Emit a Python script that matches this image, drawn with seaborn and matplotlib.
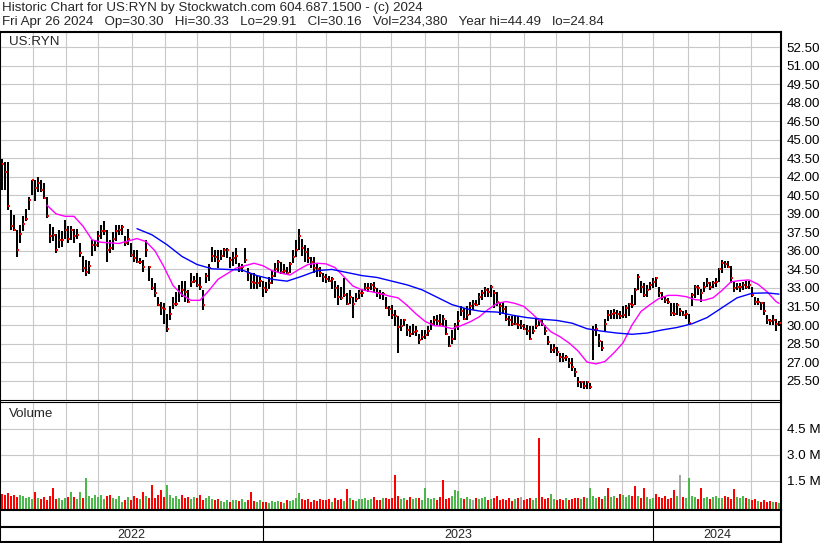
import numpy as np
import pandas as pd
import matplotlib
matplotlib.use("Agg")
import matplotlib.pyplot as plt
import seaborn as sns

# --- chart values (one bar per two trading days) ---
first_day = "2022-05-03"
last_day = "2024-04-26"

bar_high = [
    43.4, 43.2, 43.2, 39.3, 38.9, 37.7, 38.1, 38.8, 39.4, 40.4,
    41.7, 41.7, 42.0, 41.7, 41.5, 40.4, 38.2, 37.9, 37.4, 37.7,
    37.6, 38.5, 38.0, 38.0, 37.8, 37.8, 36.6, 35.6, 35.3, 35.2,
    36.9, 36.9, 37.6, 38.1, 38.4, 37.7, 36.9, 37.5, 38.1, 38.1,
    38.1, 37.2, 37.8, 36.6, 36.1, 36.1, 35.4, 35.3, 36.9, 34.8,
    33.8, 33.4, 32.3, 31.9, 31.8, 30.9, 31.5, 32.3, 32.7, 33.2,
    33.6, 33.6, 32.8, 34.2, 34.0, 34.2, 33.9, 32.8, 34.2, 34.9,
    36.3, 36.1, 36.1, 36.1, 36.2, 36.2, 35.5, 35.9, 36.2, 35.0,
    34.9, 36.2, 34.6, 34.1, 34.2, 34.0, 33.9, 33.6, 33.5, 33.9,
    34.4, 35.0, 35.3, 35.1, 34.9, 34.7, 35.1, 36.1, 36.9, 37.8,
    37.0, 36.5, 36.2, 35.5, 35.5, 35.0, 34.7, 34.2, 34.1, 34.0,
    33.9, 33.6, 33.2, 33.1, 33.8, 32.6, 32.8, 32.3, 32.6, 32.8,
    32.9, 33.4, 33.4, 33.4, 33.5, 33.0, 32.8, 32.7, 32.3, 31.5,
    31.6, 31.2, 30.7, 30.5, 30.5, 30.1, 29.9, 30.1, 29.9, 29.3,
    29.6, 29.6, 29.9, 30.4, 30.7, 30.8, 30.9, 30.8, 30.4, 29.1,
    29.6, 30.2, 31.1, 31.5, 31.4, 31.5, 31.9, 32.0, 32.0, 32.6,
    32.8, 33.1, 33.0, 33.2, 32.8, 32.7, 31.9, 31.9, 31.5, 30.7,
    30.7, 30.8, 30.7, 30.4, 30.1, 30.0, 29.9, 29.9, 30.5, 30.4,
    30.4, 30.0, 29.1, 28.5, 28.5, 28.2, 27.7, 27.7, 27.6, 27.3,
    27.3, 26.5, 25.8, 25.5, 25.5, 25.5, 25.3, 29.9, 30.1, 29.3,
    28.7, 30.5, 31.2, 31.2, 31.3, 31.2, 31.1, 31.5, 31.6, 31.8,
    32.4, 33.0, 34.1, 33.6, 33.4, 33.2, 33.5, 33.8, 33.9, 33.1,
    32.7, 32.3, 32.2, 31.8, 31.8, 31.8, 31.4, 31.1, 31.2, 30.9,
    32.6, 33.2, 33.2, 32.9, 33.5, 33.8, 33.5, 33.6, 33.8, 34.6,
    35.3, 35.2, 35.2, 34.8, 33.5, 33.4, 33.4, 33.5, 33.6, 33.6,
    33.1, 32.3, 32.2, 31.9, 31.9, 30.8, 30.5, 30.8, 30.5, 30.33,
]
bar_low = [
    40.9, 40.9, 39.3, 37.7, 37.6, 35.5, 36.6, 37.6, 38.4, 39.3,
    40.5, 40.0, 40.8, 40.8, 40.2, 38.7, 36.6, 36.8, 35.8, 36.2,
    36.3, 37.0, 36.6, 36.9, 36.6, 37.0, 35.5, 34.3, 34.0, 34.1,
    35.6, 36.0, 36.3, 37.0, 37.3, 35.1, 35.8, 36.1, 36.8, 37.3,
    37.3, 36.4, 36.5, 35.5, 35.1, 35.0, 34.9, 34.3, 35.5, 33.6,
    32.8, 32.3, 31.5, 30.8, 30.1, 29.4, 30.4, 31.3, 31.5, 31.9,
    32.3, 31.9, 31.8, 33.1, 33.4, 33.1, 32.8, 31.2, 33.4, 33.6,
    35.1, 35.1, 34.6, 35.3, 35.5, 35.4, 34.6, 34.8, 34.9, 34.3,
    34.3, 35.0, 33.6, 32.9, 32.9, 32.9, 33.1, 32.3, 32.6, 32.9,
    33.3, 33.9, 34.3, 34.1, 34.1, 34.1, 34.2, 35.0, 35.5, 36.1,
    35.6, 35.1, 35.0, 34.6, 34.2, 33.9, 33.9, 33.5, 33.4, 33.5,
    32.9, 32.2, 31.6, 32.0, 32.3, 31.6, 31.7, 30.6, 31.9, 32.1,
    32.3, 32.8, 32.7, 32.8, 32.7, 32.3, 32.1, 32.0, 31.3, 30.7,
    30.5, 29.9, 27.7, 29.5, 29.9, 29.1, 29.0, 29.2, 29.1, 28.5,
    28.8, 28.9, 29.1, 29.6, 30.0, 30.0, 29.9, 29.9, 29.2, 28.2,
    28.5, 28.8, 29.6, 30.7, 30.4, 30.4, 30.8, 31.2, 31.5, 31.6,
    32.0, 32.3, 32.3, 32.3, 31.4, 31.5, 30.8, 30.9, 30.3, 29.9,
    29.9, 30.0, 29.7, 29.7, 29.6, 29.2, 28.8, 29.3, 29.7, 29.9,
    29.9, 29.2, 28.4, 27.7, 27.7, 27.5, 27.0, 27.0, 27.1, 26.5,
    26.3, 25.8, 25.0, 24.9, 24.8, 24.8, 24.84, 27.2, 29.1, 28.2,
    27.9, 29.5, 30.3, 30.5, 30.5, 30.5, 30.5, 30.6, 30.6, 30.7,
    31.4, 31.6, 32.8, 32.6, 32.3, 32.3, 32.8, 33.0, 33.1, 32.3,
    32.0, 31.8, 31.7, 30.7, 30.7, 30.8, 30.7, 30.7, 30.5, 30.0,
    31.5, 32.2, 32.4, 31.9, 32.7, 33.1, 32.8, 33.0, 33.1, 33.5,
    34.2, 34.6, 34.6, 33.4, 32.7, 32.8, 32.7, 32.8, 32.9, 32.9,
    32.3, 31.6, 31.6, 31.2, 30.8, 30.1, 30.0, 30.0, 29.5, 29.91,
]
bar_close = [
    43.0, 42.4, 39.6, 38.0, 37.7, 36.1, 37.4, 38.2, 38.6, 40.1,
    41.7, 41.1, 41.5, 40.9, 40.3, 38.8, 37.2, 37.3, 36.1, 36.9,
    36.9, 37.7, 37.0, 37.7, 37.2, 37.3, 35.8, 34.6, 34.3, 34.8,
    36.5, 36.5, 37.2, 37.6, 37.6, 36.1, 36.2, 37.0, 37.6, 37.7,
    37.9, 36.6, 37.0, 35.7, 35.4, 35.1, 35.1, 34.7, 36.1, 34.7,
    33.0, 32.6, 31.6, 31.4, 31.3, 29.7, 30.9, 31.7, 31.7, 32.6,
    32.8, 32.7, 31.9, 33.5, 33.6, 33.2, 33.1, 31.6, 34.0, 34.6,
    35.6, 35.5, 35.2, 35.6, 36.1, 36.1, 35.3, 35.4, 35.6, 34.6,
    34.7, 35.3, 34.2, 33.5, 33.4, 33.4, 33.6, 33.0, 32.8, 33.4,
    34.0, 34.5, 35.1, 34.3, 34.4, 34.2, 34.9, 35.5, 36.1, 37.2,
    36.2, 35.9, 35.4, 35.1, 34.6, 34.5, 34.2, 33.9, 33.7, 33.6,
    33.7, 33.0, 32.3, 32.2, 32.4, 31.7, 32.3, 31.7, 32.1, 32.6,
    32.6, 33.0, 33.0, 33.2, 33.0, 32.6, 32.5, 32.5, 31.4, 31.3,
    30.8, 30.7, 29.8, 29.9, 30.4, 29.6, 29.3, 29.4, 29.5, 28.8,
    29.0, 29.2, 29.5, 30.1, 30.4, 30.3, 30.1, 30.5, 29.3, 28.3,
    28.9, 29.9, 30.3, 31.1, 30.5, 30.8, 31.5, 31.7, 31.6, 32.3,
    32.6, 32.8, 32.7, 33.1, 32.6, 31.9, 31.5, 31.3, 30.5, 30.4,
    30.1, 30.1, 30.0, 29.9, 29.7, 29.5, 28.9, 29.5, 29.9, 30.3,
    30.1, 29.5, 28.6, 28.0, 28.1, 27.8, 27.4, 27.3, 27.4, 26.9,
    26.6, 26.2, 25.4, 25.4, 25.1, 25.4, 25.0, 29.6, 29.7, 28.7,
    28.1, 30.1, 30.8, 30.9, 31.0, 30.9, 30.7, 30.8, 31.4, 31.7,
    31.6, 32.8, 33.9, 33.1, 32.4, 32.8, 33.2, 33.5, 33.8, 32.6,
    32.3, 32.0, 31.9, 31.0, 30.9, 31.6, 31.1, 30.8, 30.9, 30.2,
    32.4, 33.1, 33.0, 32.6, 33.1, 33.4, 33.1, 33.4, 33.5, 34.5,
    35.0, 34.9, 34.7, 33.8, 33.0, 33.1, 33.1, 33.2, 33.1, 33.2,
    32.4, 31.9, 31.9, 31.8, 31.1, 30.4, 30.3, 30.4, 30.1, 30.16,
]

# volume in millions of shares
volume_m = [
    0.72, 0.65, 0.78, 0.6, 0.7, 0.55, 0.68, 0.62, 0.5, 0.58, 0.45, 0.85,
    0.5, 0.42, 0.55, 0.38, 0.6, 1.06, 0.45, 0.52, 0.4, 0.48, 0.58, 0.85,
    0.55, 0.45, 0.85, 0.5, 1.64, 0.6, 0.48, 0.65, 0.55, 0.7, 0.42, 0.62,
    0.7, 0.5, 0.45, 0.6, 0.3, 0.4, 0.55, 0.38, 0.62, 0.5, 0.45, 0.85,
    0.6, 0.52, 1.25, 0.48, 0.7, 0.95, 0.55, 1.25, 0.65, 0.5, 0.62, 0.45,
    0.7, 0.5, 0.58, 0.42, 0.55, 0.48, 0.7, 0.4, 0.5, 0.62, 0.45, 0.38,
    0.42, 0.35, 0.3, 0.38, 0.28, 0.36, 0.4, 0.32, 0.45, 0.3, 0.38, 0.85,
    0.35, 0.28, 0.4, 0.25, 0.3, 0.22, 0.32, 0.27, 0.35, 0.3, 0.24, 0.38,
    0.33, 0.4, 0.5, 0.8, 0.45, 0.36, 0.42, 0.3, 0.38, 0.33, 0.45, 0.4,
    0.36, 0.42, 0.3, 0.48, 0.38, 0.44, 0.35, 1.0, 0.5, 0.4, 0.33, 0.46,
    0.42, 0.5, 0.38, 0.45, 0.55, 0.4, 0.36, 0.48, 0.52, 0.44, 0.5, 1.83,
    0.6, 0.45, 0.5, 0.38, 0.55, 0.42, 0.48, 0.5, 0.4, 1.06, 0.52, 0.45,
    0.48, 0.4, 0.55, 1.54, 0.45, 0.5, 0.62, 0.95, 0.9, 0.5, 0.42, 0.55,
    0.45, 0.38, 0.5, 0.42, 0.48, 0.55, 0.4, 0.45, 0.52, 0.6, 0.38, 0.44,
    0.4, 0.48, 0.35, 0.42, 0.5, 0.55, 0.38, 0.45, 0.5, 0.4, 0.48, 3.94,
    0.55, 0.45, 0.5, 0.75, 0.42, 0.38, 0.45, 0.4, 0.5, 0.36, 0.44, 0.48,
    0.5, 0.42, 0.55, 0.48, 1.06, 0.6, 0.5, 0.58, 0.45, 0.62, 1.06, 0.55,
    0.6, 0.5, 0.72, 0.65, 0.55, 0.7, 0.62, 1.2, 0.6, 0.5, 1.1, 0.55,
    0.45, 0.5, 0.75, 0.55, 0.48, 0.6, 0.42, 0.5, 0.95, 0.6, 1.83, 0.55,
    0.5, 1.68, 0.62, 0.55, 0.45, 1.1, 0.5, 0.58, 0.42, 0.55, 0.6, 0.48,
    0.52, 0.6, 0.55, 0.45, 1.0, 0.55, 0.48, 0.6, 0.5, 0.42, 0.38, 0.45,
    0.35, 0.3, 0.4, 0.28, 0.33, 0.3, 0.25, 0.23,
]
# bars whose up/down colour differs from the two-day close comparison
volume_colour_fix = {17: "r", 26: "g", 28: "g", 36: "r", 55: "g", 60: "r", 147: "r",
                     179: "r", 183: "g", 196: "g", 202: "r", 211: "r", 218: "r", 229: "g"}
flat_bars = [157, 173, 226]

# short moving average, read every third bar (plus the last one)
ma_fast = [
    39.7, 39.0, 38.8, 38.8, 38.0, 36.9, 36.7, 36.65, 36.6, 36.8,
    37.0, 36.75, 36.0, 34.7, 33.2, 32.45, 32.0, 32.0, 32.8, 33.7,
    34.15, 34.6, 34.8, 35.0, 34.8, 34.4, 34.2, 34.05, 34.5, 34.9,
    35.0, 34.95, 34.65, 33.9, 33.15, 32.85, 32.7, 32.55, 32.35, 32.2,
    31.6, 30.9, 30.3, 29.95, 29.9, 29.7, 29.95, 30.25, 30.65, 31.25,
    31.75, 31.9, 31.75, 31.5, 30.85, 30.15, 29.45, 29.05, 28.55, 27.9,
    27.0, 26.85, 27.05, 27.75, 28.55, 30.0, 31.1, 31.65, 32.15, 32.4,
    32.4, 32.3, 32.05, 32.0, 32.2, 32.8, 33.5, 33.6, 33.65, 33.3,
    32.7, 31.9, 31.75,
]
# long moving average, read every fifth bar (plus the last one)
ma_slow = [
    37.8, 37.3, 36.5, 35.55, 34.9, 34.55, 34.5, 34.45, 34.0, 33.7,
    33.55, 33.95, 34.4, 34.5, 34.25, 34.0, 33.85, 33.55, 33.25, 32.85,
    32.25, 31.65, 31.3, 31.1, 31.05, 30.8, 30.6, 30.47, 30.37, 30.15,
    29.7, 29.5, 29.35, 29.25, 29.35, 29.6, 29.8, 30.1, 30.6, 31.4,
    32.2, 32.57, 32.6, 32.5,
]
ma_fast_first, ma_fast_step = 15, 3
ma_slow_first, ma_slow_step = 45, 5

price_ticks = np.arange(25.5, 52.51, 1.5)
volume_ticks = [1.5, 3.0, 4.5]
volume_tick_labels = ["1.5 M", "3.0 M", "4.5 M"]

header_1 = "Historic Chart for US:RYN by Stockwatch.com 604.687.1500 - (c) 2024"
header_2 = ("Fri Apr 26 2024   Op=30.30   Hi=30.33   Lo=29.91   Cl=30.16   "
            "Vol=234,380   Year hi=44.49   lo=24.84")

# --- build the frame ---
days = pd.bdate_range(first_day, last_day)
bar_x = np.arange(0, len(days), 2)
df = pd.DataFrame({"x": bar_x, "high": bar_high, "low": bar_low,
                   "close": bar_close, "vol": volume_m})

colours = []
prev = df["close"].iloc[0] + 1
for i, c in enumerate(df["close"]):
    col = "g" if c >= prev else "r"
    col = volume_colour_fix.get(i, col)
    if i in flat_bars:
        col = "n"
    colours.append({"g": "#4cb84c", "r": "#ff0000", "n": "#a8a8a8"}[col])
    prev = c

last_bar = len(bar_x) - 1
fast_idx = list(range(ma_fast_first, last_bar, ma_fast_step)) + [last_bar]
slow_idx = list(range(ma_slow_first, last_bar - 3, ma_slow_step)) + [last_bar]

month_starts = [i for i in range(1, len(days)) if days[i].month != days[i - 1].month]
year_starts = [i for i in range(1, len(days)) if days[i].year != days[i - 1].year]

# --- draw ---
sns.set_style("white")
plt.rcParams["font.family"] = ["Liberation Sans", "DejaVu Sans"]

W, H = 830, 543
fig = plt.figure(figsize=(W / 100, H / 100), dpi=100)


def px_box(left, top, right, bottom):
    return [left / W, 1 - bottom / H, (right - left) / W, (bottom - top) / H]


ax_p = fig.add_axes(px_box(0, 32, 781, 400))
ax_v = fig.add_axes(px_box(0, 402, 781, 510))
ax_d = fig.add_axes(px_box(0, 510, 781, 542))

x_lo, x_hi = -1.33, 519.33
grid_kw = dict(color="#c8c8c8", linewidth=0.8)

for ax in (ax_p, ax_v):
    ax.set_xlim(x_lo, x_hi)
    ax.set_xticks(month_starts)
    ax.tick_params(axis="x", length=0, labelbottom=False)
    ax.grid(True, **grid_kw)
    ax.set_axisbelow(True)
    ax.yaxis.tick_right()
    ax.tick_params(axis="y", length=0, pad=4, labelsize=9.6, labelcolor="#000000")
    for s in ax.spines.values():
        s.set_color("black")
        s.set_linewidth(1.5)

# price panel
ax_p.set_ylim(23.93, 53.72)
ax_p.set_yticks(price_ticks)
ax_p.set_yticklabels([f"{v:.2f}" for v in price_ticks])
ax_p.spines["bottom"].set_linewidth(0.8)
ax_p.vlines(df["x"], df["low"], df["high"], color="black", linewidth=1.45, zorder=3)
ax_p.scatter(df["x"] + 0.65, df["close"], marker="s", s=2.4, color="red",
             linewidths=0, zorder=4)
sns.lineplot(x=bar_x[fast_idx], y=ma_fast, ax=ax_p, color="#ff00ff",
             linewidth=1.0, legend=False, zorder=5)
sns.lineplot(x=bar_x[slow_idx], y=ma_slow, ax=ax_p, color="#0000ff",
             linewidth=1.0, legend=False, zorder=5)
ax_p.set_xlabel("")
ax_p.set_ylabel("")

# volume panel
vol_floor = -0.19
ax_v.set_ylim(vol_floor, 6.04)
ax_v.set_yticks(volume_ticks)
ax_v.set_yticklabels(volume_tick_labels)
ax_v.spines["top"].set_linewidth(0.8)
ax_v.bar(df["x"], df["vol"] - vol_floor, bottom=vol_floor, width=1.75,
         color=colours, linewidth=0, zorder=3)

# date strip
ax_d.set_xlim(x_lo, x_hi)
ax_d.set_ylim(0, 1)
ax_d.set_xticks([])
ax_d.set_yticks([])
for s in ax_d.spines.values():
    s.set_color("black")
    s.set_linewidth(1.5)
ax_d.axhline((542 - 527) / 32, color="black", linewidth=1.5)
bounds = [x_lo] + year_starts + [x_hi]
for b in year_starts:
    ax_d.axvline(b, color="black", linewidth=0.8)
for a, b in zip(bounds[:-1], bounds[1:]):
    ax_d.text((a + b) / 2, (542 - 535) / 32, str(days[int(max(a, 0))].year),
              ha="center", va="center", fontsize=9)

# texts
fig.text(2 / W, 1 - 8.5 / H, header_1, ha="left", va="center", fontsize=9.6)
fig.text(2 / W, 1 - 21.5 / H, header_2, ha="left", va="center", fontsize=9.6)
fig.text(9 / W, 1 - 42 / H, "US:RYN", ha="left", va="center", fontsize=9.6)
fig.text(9 / W, 1 - 414 / H, "Volume", ha="left", va="center", fontsize=9.6)

fig.savefig("out.png", dpi=100, facecolor="white")
